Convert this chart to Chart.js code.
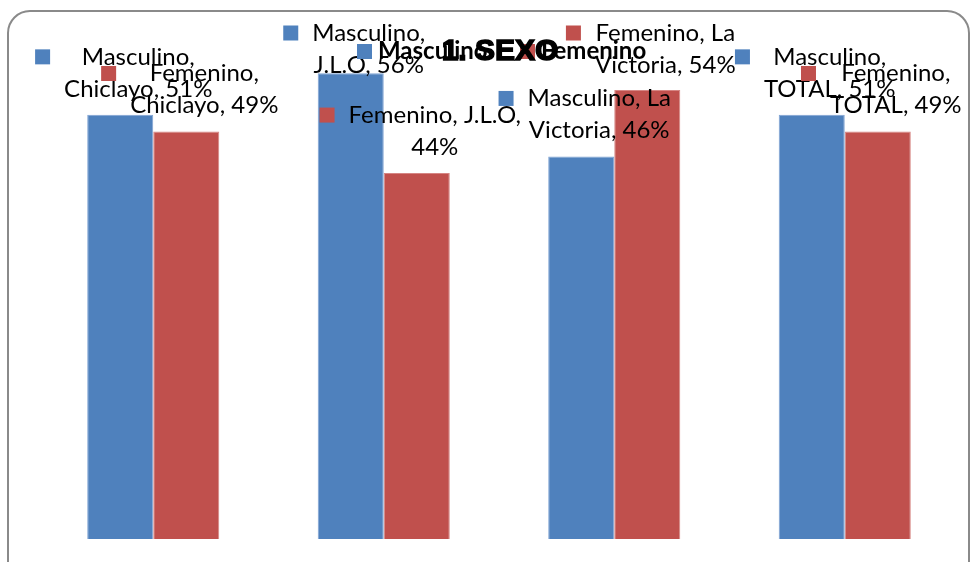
<!DOCTYPE html>
<html>
<head>
<meta charset="utf-8">
<script src="https://cdn.jsdelivr.net/npm/chart.js@4/dist/chart.umd.min.js"></script>
<style>
  body { margin: 0; background: #fff; }
  canvas { display: block; }
</style>
</head>
<body>
<canvas id="chart" width="974" height="562"></canvas>
<script>
// data
const categories = ['Chiclayo', 'J.L.O', 'La Victoria', 'TOTAL'];
const masculino = [51, 56, 46, 51];
const femenino = [49, 44, 54, 49];
const seriesNames = ['Masculino', 'Femenino'];
const seriesColors = ['#4F81BD', '#C0504D'];
const chartTitle = '1. SEXO';

const labelFont = '24px Lato';
const lineH = 32;
const wrapWidth = 173;

function wrapText(ctx, text, maxW) {
  let words = text.split(' ');
  let lines = [];
  let cur = '';
  for (let w of words) {
    let test = cur ? cur + ' ' + w : w;
    if (cur && ctx.measureText(test).width > maxW) {
      lines.push(cur);
      cur = w;
    } else {
      cur = test;
    }
  }
  if (cur) lines.push(cur);
  return lines;
}

// rounded frame round the chart
const framePlugin = {
  id: 'frame',
  beforeDraw(chart) {
    const ctx = chart.ctx;
    ctx.save();
    ctx.fillStyle = '#fff';
    ctx.fillRect(0, 0, chart.width, chart.height);
    ctx.strokeStyle = '#8a8a8a';
    ctx.lineWidth = 2;
    ctx.beginPath();
    ctx.roundRect(8, 11, 961, 580, 22);
    ctx.stroke();
    ctx.restore();
  }
};

// data labels with their legend keys, then legend and title on top
const labelPlugin = {
  id: 'labels',
  afterDatasetsDraw(chart) {
    const ctx = chart.ctx;
    ctx.save();
    ctx.font = labelFont;
    ctx.textAlign = 'center';
    ctx.textBaseline = 'middle';
    chart.data.datasets.forEach((ds, i) => {
      const meta = chart.getDatasetMeta(i);
      meta.data.forEach((bar, j) => {
        const text = ds.label + ', ' + chart.data.labels[j] + ', ' + ds.data[j] + '%';
        const lines = wrapText(ctx, text, wrapWidth);
        const cx = bar.x + 18;
        let lastY = bar.y - 26;
        let firstY = lastY - (lines.length - 1) * lineH;
        if (firstY < 33) firstY = 33;
        let maxW = 0;
        lines.forEach(l => { maxW = Math.max(maxW, ctx.measureText(l).width); });
        ctx.fillStyle = ds.backgroundColor;
        ctx.fillRect(cx - maxW / 2 - 29, firstY - 7.5, 15, 15);
        ctx.fillStyle = '#000';
        lines.forEach((l, k) => ctx.fillText(l, cx, firstY + k * lineH));
      });
    });

    // legend
    ctx.font = 'bold 24px Lato';
    ctx.textAlign = 'left';
    const legX = [357, 520];
    chart.data.datasets.forEach((ds, i) => {
      ctx.fillStyle = ds.backgroundColor;
      ctx.fillRect(legX[i], 44, 15, 15);
      ctx.fillStyle = '#000';
      ctx.fillText(ds.label, legX[i] + 21, 51);
    });

    // title (heavy, drawn last)
    ctx.font = 'bold 30px "Liberation Sans"';
    ctx.textAlign = 'center';
    ctx.lineWidth = 1.5;
    ctx.strokeStyle = '#000';
    ctx.fillText(chartTitle, 500, 52);
    ctx.strokeText(chartTitle, 500, 52);
    ctx.restore();
  }
};

new Chart(document.getElementById('chart'), {
  type: 'bar',
  data: {
    labels: categories,
    datasets: [{
      label: seriesNames[0],
      data: masculino,
      backgroundColor: seriesColors[0],
      borderColor: '#7fa3d3',
      borderWidth: 1
    }, {
      label: seriesNames[1],
      data: femenino,
      backgroundColor: seriesColors[1],
      borderColor: '#d68583',
      borderWidth: 1
    }]
  },
  options: {
    responsive: false,
    animation: false,
    devicePixelRatio: 1,
    layout: { padding: { left: 38, right: 14, top: 40, bottom: 23 } },
    datasets: { bar: { barPercentage: 1, categoryPercentage: 0.573 } },
    scales: {
      x: { display: false },
      y: { display: false, min: 0, max: 60 }
    },
    plugins: {
      legend: { display: false },
      title: { display: false },
      tooltip: { enabled: false }
    }
  },
  plugins: [framePlugin, labelPlugin]
});
</script>
</body>
</html>
